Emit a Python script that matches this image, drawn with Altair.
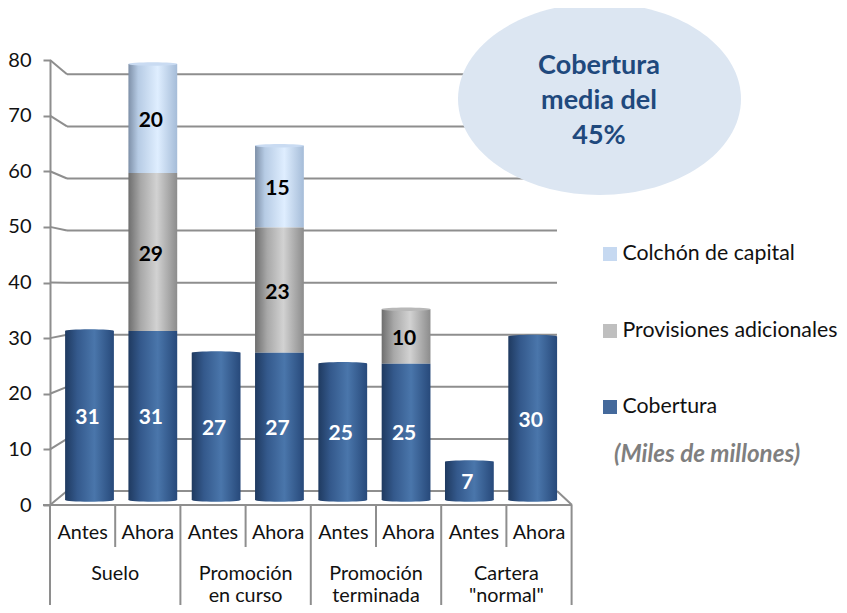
import altair as alt
import pandas as pd

# ---- values ----
bar_labels = ["Antes", "Ahora", "Antes", "Ahora", "Antes", "Ahora", "Antes", "Ahora"]
cobertura = [31, 31, 27, 27, 25, 25, 7, 30]
provisiones = [0, 29, 0, 23, 0, 10, 0, 0]
colchon = [0, 20, 0, 15, 0, 0, 0, 0]
group_lines = [
    (1, "Suelo", 0), (3, "Promoción", 0), (3, "en curso", 1),
    (5, "Promoción", 0), (5, "terminada", 1), (7, "Cartera", 0), (7, "\"normal\"", 1),
]
tick_values = [0, 10, 20, 30, 40, 50, 60, 70, 80]
legend_names = ["Colchón de capital", "Provisiones adicionales", "Cobertura"]
legend_colors = ["#c6d9f1", "#bfbfbf", "#44699b"]
callout_lines = ["Cobertura", "media del", "45%"]
note_text = "(Miles de millones)"

FONT = "Lato"
GREY = "#8e8e8e"
OX, OY = 50, 8  # page position of the plot origin


def px(v):
    return v - OX


def py(v):
    return v - OY


# three depth planes of the pseudo-3D chart share one value domain
Y_FRONT = alt.Scale(domain=[0, 80], range=[py(505), py(60)])
Y_WALL = alt.Scale(domain=[0, 80], range=[py(491), py(74.3)])
Y_BAR = alt.Scale(domain=[0, 80], range=[py(500), py(64)])
X_BAR = alt.Scale(domain=[0, 7], range=[px(89.5), px(532.7)], padding=0)
X_SEP = alt.Scale(domain=[0, 8], range=[px(50), px(571.6)])


def grad(*stops):
    return alt.Gradient(
        gradient="linear", x1=0, x2=1, y1=0, y2=0,
        stops=[alt.GradientStop(offset=o, color=c) for o, c in stops],
    )


G_BLUE = grad((0, "#1f3a60"), (0.25, "#34598c"), (0.6, "#4a76ab"), (1, "#27497a"))
G_GREY = grad((0, "#6e6e6e"), (0.25, "#a8a8a8"), (0.58, "#d2d2d2"), (1, "#8c8c8c"))
G_LIGHT = grad((0, "#7e90a8"), (0.2, "#b6cbe4"), (0.6, "#dfeeff"), (1, "#a5bcd8"))

bars = pd.DataFrame({
    "i": range(8), "label": bar_labels,
    "cob": cobertura, "pro": provisiones, "col": colchon,
})
bars["c0"] = 0
bars["p1"] = bars.cob + bars.pro
bars["t1"] = bars.p1 + bars.col

ELLIPSE_CAP = "M-1,0 A1,0.07 0 1,1 1,0 A1,0.07 0 1,1 -1,0 Z"
CAP_SIZE = 48.8 ** 2
BW = 48.8


def seg(df, lo, hi, fill):
    return alt.Chart(df).mark_bar(size=BW, fill=fill, stroke=None).encode(
        x=alt.X("i:Q", scale=X_BAR, axis=None),
        y=alt.Y(f"{lo}:Q", scale=Y_BAR, axis=None),
        y2=f"{hi}:Q",
    )


def cap(df, field, fill):
    return alt.Chart(df).mark_point(
        shape=ELLIPSE_CAP, size=CAP_SIZE, filled=True, fill=fill, opacity=1, stroke=None
    ).encode(
        x=alt.X("i:Q", scale=X_BAR, axis=None),
        y=alt.Y(f"{field}:Q", scale=Y_BAR, axis=None),
    )


def value_labels(df, lo, hi, color):
    d = df.copy()
    d["mid"] = (d[lo] + d[hi]) / 2
    d["txt"] = (d[hi] - d[lo]).astype(int).astype(str)
    return alt.Chart(d).mark_text(
        font=FONT, fontWeight="bold", fontSize=21, color=color, dx=-2, dy=2.5
    ).encode(
        x=alt.X("i:Q", scale=X_BAR, axis=None),
        y=alt.Y("mid:Q", scale=Y_BAR, axis=None),
        text="txt:N",
    )


def hline(x1, x2, y1, y2, width=2, color=GREY):
    return alt.Chart(pd.DataFrame({"a": [0]})).mark_rule(color=color, strokeWidth=width).encode(
        x=alt.value(px(x1)), x2=alt.value(px(x2)), y=alt.value(py(y1)), y2=alt.value(py(y2))
    )


# --- frame -------------------------------------------------------------
ticks = pd.DataFrame({"v": tick_values})
# wall height of each tick, expressed on the front scale so a slanted rule can join both
ticks["w"] = (505 - (491 - ticks.v * (491 - 74.3) / 80)) / ((505 - 60) / 80)

slants = alt.Chart(ticks).mark_rule(color=GREY, strokeWidth=2).encode(
    x=alt.value(px(50)), x2=alt.value(px(67)),
    y=alt.Y(
        "v:Q", scale=Y_FRONT,
        axis=alt.Axis(
            values=tick_values, title=None, grid=False, tickSize=7, tickWidth=2,
            tickColor=GREY, domainColor=GREY, domainWidth=2, labelFont=FONT,
            labelFontSize=20, labelColor="#111111", labelPadding=12,
        ),
    ),
    y2="w:Q",
)
wall = alt.Chart(ticks).mark_rule(color=GREY, strokeWidth=2).encode(
    x=alt.value(px(67)), x2=alt.value(px(557)),
    y=alt.Y("v:Q", scale=Y_WALL, axis=None),
)

seps = pd.DataFrame({"s": range(9)})
seps["long"] = seps.s % 2 == 0
sep_short = alt.Chart(seps[~seps.long]).mark_rule(color=GREY, strokeWidth=2).encode(
    x=alt.X("s:Q", scale=X_SEP, axis=None), y=alt.value(py(505)), y2=alt.value(py(547))
)
sep_long = alt.Chart(seps[seps.long]).mark_rule(color=GREY, strokeWidth=2).encode(
    x=alt.X("s:Q", scale=X_SEP, axis=None), y=alt.value(py(505)), y2=alt.value(py(612))
)

# --- category labels ---------------------------------------------------
LABEL_SIZE = 19.8
lab = pd.DataFrame({"s": [i + 0.5 for i in range(8)], "t": bar_labels})
bar_text = alt.Chart(lab).mark_text(font=FONT, fontSize=LABEL_SIZE, color="#111111").encode(
    x=alt.X("s:Q", scale=X_SEP, axis=None), y=alt.value(py(533)), text="t:N"
)
gl = pd.DataFrame(group_lines, columns=["s", "t", "row"])
g0 = alt.Chart(gl[gl.row == 0]).mark_text(font=FONT, fontSize=LABEL_SIZE, color="#111111").encode(
    x=alt.X("s:Q", scale=X_SEP, axis=None), y=alt.value(py(574)), text="t:N"
)
g1 = alt.Chart(gl[gl.row == 1]).mark_text(font=FONT, fontSize=LABEL_SIZE, color="#111111").encode(
    x=alt.X("s:Q", scale=X_SEP, axis=None), y=alt.value(py(596)), text="t:N"
)

# --- bars --------------------------------------------------------------
has_col = bars[bars.col > 0]
has_pro = bars[bars.pro > 0]
top_pro = bars[(bars.pro > 0) & (bars.col == 0)]
top_cob = bars[bars.pro == 0]

bar_layers = [
    cap(bars, "c0", G_BLUE),
    seg(has_col, "p1", "t1", G_LIGHT), cap(has_col, "t1", "#c9dbf2"),
    seg(has_pro, "cob", "p1", G_GREY), cap(top_pro, "p1", "#b8b8b8"),
    seg(bars, "c0", "cob", G_BLUE), cap(top_cob, "cob", G_BLUE),
    value_labels(bars, "c0", "cob", "#ffffff"),
    value_labels(has_pro, "cob", "p1", "#000000"),
    value_labels(has_col, "p1", "t1", "#000000"),
]

# --- callout -----------------------------------------------------------
callout = alt.Chart(pd.DataFrame({"a": [0]})).mark_point(
    shape="M-1,0 A1,0.678 0 1,1 1,0 A1,0.678 0 1,1 -1,0 Z",
    size=283 ** 2, filled=True, fill="#dce6f2", opacity=1, stroke=None,
).encode(x=alt.value(px(599.5)), y=alt.value(py(99)))

callout_text = [
    alt.Chart(pd.DataFrame({"t": [t]})).mark_text(
        font=FONT, fontWeight="bold", fontSize=27, color="#1f497d"
    ).encode(x=alt.value(px(599)), y=alt.value(py(y)), text="t:N")
    for t, y in zip(callout_lines, [66, 101, 136])
]

# --- legend ------------------------------------------------------------
legend_layers = []
for name, color, y in zip(legend_names, legend_colors, [254, 331, 407]):
    one = pd.DataFrame({"t": [name]})
    legend_layers.append(
        alt.Chart(one).mark_point(
            shape="square", size=14 ** 2, filled=True, fill=color, opacity=1, stroke=None
        ).encode(x=alt.value(px(610)), y=alt.value(py(y)))
    )
    legend_layers.append(
        alt.Chart(one).mark_text(
            font=FONT, fontSize=21.3, color="#111111", align="left"
        ).encode(x=alt.value(px(622.5)), y=alt.value(py(y)), text="t:N")
    )
note = alt.Chart(pd.DataFrame({"t": [note_text]})).mark_text(
    font=FONT, fontSize=24.2, fontWeight="bold", fontStyle="italic", color="#7f7f7f", align="left"
).encode(x=alt.value(px(614)), y=alt.value(py(455)), text="t:N")

chart = alt.layer(
    wall, slants,
    hline(43, 572, 505, 505),
    hline(557, 572, 491, 505),
    sep_short, sep_long,
    bar_text, g0, g1,
    *bar_layers,
    callout, *callout_text,
    *legend_layers, note,
).resolve_scale(x="independent", y="independent").properties(
    width=847 - 16 - 42,
    height=597,
    autosize=alt.AutoSizeParams(type="none"),
    padding={"left": 42, "top": 0, "right": 0, "bottom": 0},
    background="#ffffff",
).configure_view(strokeWidth=0, stroke="transparent")

chart.save("out.html", embed_options={"renderer": "svg", "actions": False})
